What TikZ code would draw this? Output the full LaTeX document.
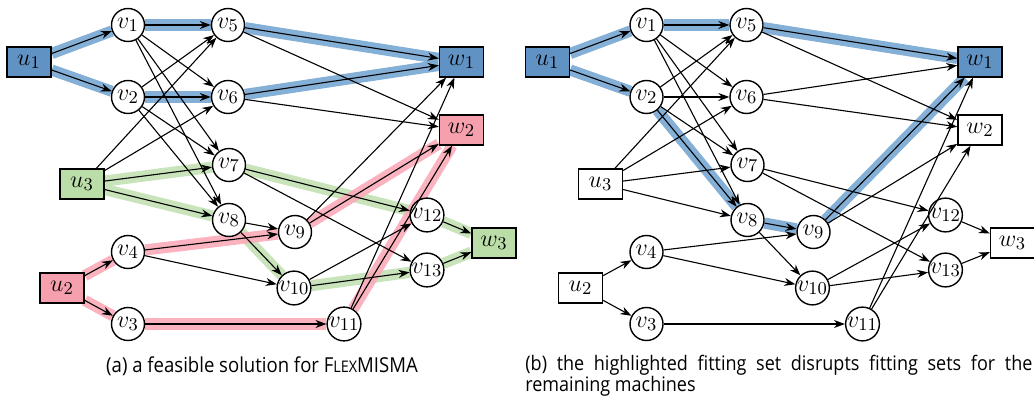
\documentclass[tikz,border=0pt]{standalone}
\usepackage{fontspec}
\newfontfamily\capfont[FakeStretch=0.9]{Open Sans}
\usetikzlibrary{arrows.meta}
\pgfdeclarelayer{bg}
\pgfsetlayers{bg,main}
\definecolor{nblue}{RGB}{96,146,196}
\definecolor{ngreen}{RGB}{187,221,168}
\definecolor{npink}{RGB}{246,160,174}
\definecolor{bblue}{RGB}{122,168,210}
\definecolor{bgreen}{RGB}{196,226,180}
\definecolor{bpink}{RGB}{250,172,186}
\tikzset{
  vnode/.style={circle,draw,line width=0.7pt,fill=white,minimum size=16.5pt,inner sep=0pt,font=\fontsize{12.5}{14}\selectfont},
  mbox/.style={rectangle,draw,line width=0.7pt,minimum width=22pt,minimum height=15pt,inner sep=0pt,font=\fontsize{12.5}{14}\selectfont},
  arr/.style={line width=0.55pt,-{Stealth[length=5.5pt,width=4pt,inset=1.8pt]}},
  band/.style={line width=5.6pt,draw=#1,line cap=butt,opacity=0.92},
}
\newcommand\GNodes[3]{%
  \node[mbox,fill=#1] (u1) at (29,62) {$u_1$};
  \node[vnode] (v1) at (128,25) {$v_1$};
  \node[vnode] (v5) at (228,25) {$v_5$};
  \node[vnode] (v2) at (128,97) {$v_2$};
  \node[vnode] (v6) at (228,97) {$v_6$};
  \node[mbox,fill=#2] (u3) at (82,184) {$u_3$};
  \node[vnode] (v7) at (229,165) {$v_7$};
  \node[vnode] (v8) at (229,220) {$v_8$};
  \node[vnode] (v4) at (128,252) {$v_4$};
  \node[mbox,fill=#3] (u2) at (62,288) {$u_2$};
  \node[vnode] (v3) at (128,324) {$v_3$};
  \node[vnode] (v9) at (295,232) {$v_9$};
  \node[vnode] (v10) at (294,288) {$v_{10}$};
  \node[vnode] (v11) at (344,324) {$v_{11}$};
  \node[vnode] (v12) at (427,215) {$v_{12}$};
  \node[vnode] (v13) at (427,270) {$v_{13}$};
  \node[mbox,fill=#1] (w1) at (461.5,62) {$w_1$};
  \node[mbox,fill=#3] (w2) at (461.5,130) {$w_2$};
  \node[mbox,fill=#2] (w3) at (494,243) {$w_3$};
}
\newcommand\GEdges{%
  \foreach \s/\t in {u1/v1,u1/v2,v1/v5,v1/v6,v1/v7,v1/v8,v2/v5,v2/v6,v2/v7,v2/v8,
    u3/v5,u3/v6,u3/v7,u3/v8,v5/w1,v5/w2,v6/w1,v6/w2,v7/v12,v7/v13,v8/v9,v8/v10,
    u2/v4,u2/v3,v4/v9,v4/v10,v3/v11,v9/w1,v9/w2,v10/v12,v10/v13,v11/w1,v11/w2,
    v12/w3,v13/w3}
    {\draw[arr] (\s) -- (\t);}
}
\begin{document}
\begin{tikzpicture}[x=0.5pt,y=-0.5pt]
\useasboundingbox (0,0) rectangle (1034,401);
% panel (a)
\begin{scope}[name prefix=a-]
  \GNodes{nblue}{ngreen}{npink}
  \begin{pgfonlayer}{bg}
    \foreach \s/\t in {u1/v1,u1/v2,v1/v5,v2/v6,v5/w1,v6/w1}
      {\draw[band=bblue] (\s) -- (\t);}
    \foreach \s/\t in {u3/v7,u3/v8,v7/v12,v8/v10,v10/v13,v12/w3,v13/w3}
      {\draw[band=bgreen] (\s) -- (\t);}
    \foreach \s/\t in {u2/v4,u2/v3,v4/v9,v3/v11,v9/w2,v11/w2}
      {\draw[band=bpink] (\s) -- (\t);}
  \end{pgfonlayer}
  \GEdges
\end{scope}
% panel (b)
\begin{scope}[xshift=259.25pt,name prefix=b-]
  \GNodes{nblue}{white}{white}
  \begin{pgfonlayer}{bg}
    \foreach \s/\t in {u1/v1,u1/v2,v1/v5,v5/w1,v2/v8,v8/v9,v9/w1}
      {\draw[band=bblue] (\s) -- (\t);}
  \end{pgfonlayer}
  \GEdges
\end{scope}
% captions
\node[font=\capfont\fontsize{10.3}{10.5}\selectfont,inner sep=0pt] (capa) at (262,366)
  {(a) a feasible solution for F{\fontsize{8}{8}\selectfont LEX}MISMA};
\node[font=\capfont\fontsize{10}{10.5}\selectfont,inner sep=0pt,anchor=west,align=left] (capb) at (525,376)
  {\makebox[253.5pt][s]{(b) the highlighted fitting set disrupts fitting sets for the}\\
   remaining machines};
\end{tikzpicture}
\end{document}
